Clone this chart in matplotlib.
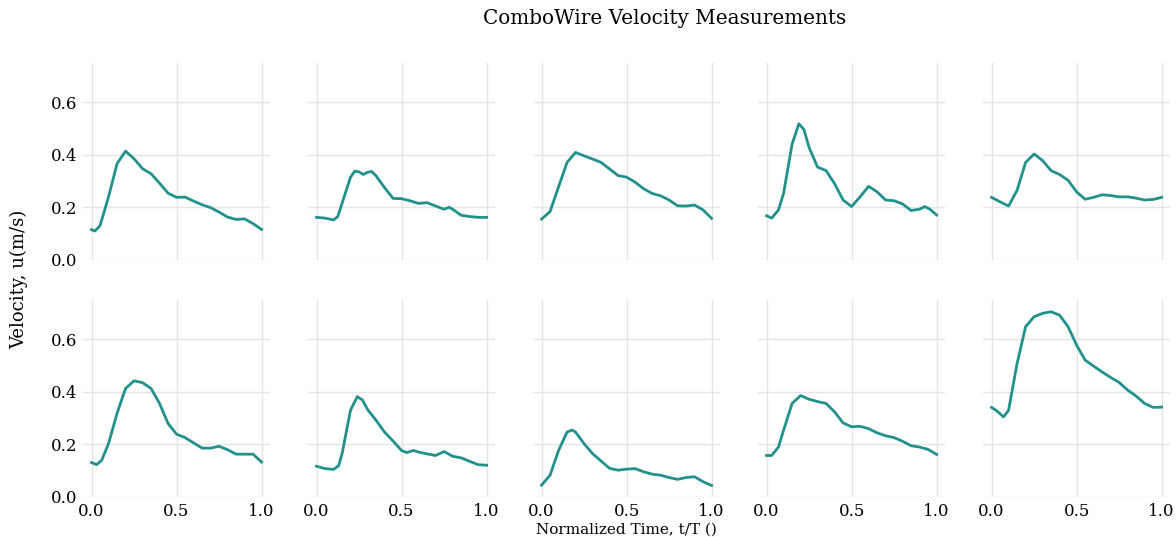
import matplotlib
matplotlib.use("Agg")
import matplotlib.pyplot as plt

# panel data (normalized time, velocity in m/s)
t1 = [0, 0.02, 0.05, 0.1, 0.15, 0.2, 0.25, 0.3, 0.35, 0.4, 0.45, 0.5, 0.55, 0.6, 0.65, 0.7, 0.75, 0.8, 0.85, 0.9, 0.95, 1.0]
u1 = [0.115, 0.11, 0.13, 0.24, 0.366, 0.414, 0.385, 0.347, 0.328, 0.292, 0.254, 0.238, 0.239, 0.224, 0.21, 0.199, 0.182, 0.163, 0.154, 0.156, 0.138, 0.116]

t2 = [0, 0.05, 0.1, 0.125, 0.15, 0.2, 0.225, 0.25, 0.275, 0.3, 0.325, 0.35, 0.4, 0.45, 0.5, 0.55, 0.6, 0.65, 0.7, 0.75, 0.78, 0.8, 0.85, 0.9, 0.95, 1.0]
u2 = [0.162, 0.159, 0.152, 0.165, 0.215, 0.315, 0.338, 0.335, 0.325, 0.334, 0.336, 0.32, 0.275, 0.234, 0.233, 0.225, 0.215, 0.218, 0.205, 0.193, 0.2, 0.193, 0.17, 0.165, 0.162, 0.162]

t3 = [0, 0.05, 0.1, 0.15, 0.2, 0.25, 0.3, 0.35, 0.4, 0.45, 0.5, 0.55, 0.6, 0.65, 0.7, 0.75, 0.8, 0.85, 0.9, 0.95, 1.0]
u3 = [0.155, 0.184, 0.278, 0.371, 0.409, 0.396, 0.384, 0.371, 0.346, 0.321, 0.315, 0.296, 0.271, 0.253, 0.244, 0.228, 0.206, 0.205, 0.209, 0.19, 0.158]

t4 = [0, 0.03, 0.07, 0.1, 0.15, 0.19, 0.22, 0.25, 0.3, 0.35, 0.4, 0.45, 0.5, 0.55, 0.6, 0.65, 0.7, 0.75, 0.8, 0.85, 0.9, 0.93, 0.96, 1.0]
u4 = [0.168, 0.159, 0.19, 0.253, 0.44, 0.518, 0.496, 0.428, 0.353, 0.34, 0.29, 0.228, 0.203, 0.24, 0.28, 0.259, 0.228, 0.225, 0.213, 0.188, 0.193, 0.203, 0.193, 0.171]

t5 = [0, 0.05, 0.1, 0.15, 0.2, 0.25, 0.3, 0.35, 0.4, 0.45, 0.5, 0.55, 0.6, 0.65, 0.7, 0.75, 0.8, 0.85, 0.9, 0.95, 1.0]
u5 = [0.238, 0.221, 0.205, 0.265, 0.371, 0.403, 0.378, 0.34, 0.325, 0.303, 0.259, 0.231, 0.238, 0.248, 0.245, 0.24, 0.24, 0.235, 0.228, 0.23, 0.238]

t6 = [0, 0.03, 0.06, 0.1, 0.15, 0.2, 0.25, 0.3, 0.35, 0.4, 0.45, 0.5, 0.55, 0.6, 0.65, 0.7, 0.75, 0.8, 0.85, 0.9, 0.95, 1.0]
u6 = [0.131, 0.123, 0.14, 0.203, 0.318, 0.413, 0.442, 0.435, 0.413, 0.356, 0.28, 0.239, 0.226, 0.206, 0.186, 0.186, 0.193, 0.18, 0.163, 0.163, 0.163, 0.133]

t7 = [0, 0.05, 0.1, 0.13, 0.15, 0.2, 0.24, 0.27, 0.3, 0.35, 0.4, 0.45, 0.5, 0.53, 0.57, 0.6, 0.65, 0.7, 0.75, 0.8, 0.85, 0.9, 0.95, 1.0]
u7 = [0.117, 0.108, 0.105, 0.119, 0.164, 0.331, 0.382, 0.369, 0.333, 0.292, 0.247, 0.213, 0.177, 0.169, 0.177, 0.171, 0.164, 0.158, 0.173, 0.155, 0.149, 0.136, 0.123, 0.121]

t8 = [0, 0.05, 0.1, 0.15, 0.18, 0.2, 0.25, 0.3, 0.35, 0.4, 0.45, 0.5, 0.55, 0.6, 0.65, 0.7, 0.75, 0.8, 0.85, 0.9, 0.95, 1.0]
u8 = [0.045, 0.083, 0.177, 0.247, 0.255, 0.247, 0.203, 0.165, 0.137, 0.109, 0.102, 0.106, 0.108, 0.096, 0.087, 0.083, 0.074, 0.067, 0.074, 0.077, 0.058, 0.044]

t9 = [0, 0.03, 0.07, 0.1, 0.15, 0.2, 0.25, 0.3, 0.35, 0.4, 0.45, 0.5, 0.55, 0.6, 0.65, 0.7, 0.75, 0.8, 0.85, 0.9, 0.95, 1.0]
u9 = [0.158, 0.158, 0.19, 0.254, 0.356, 0.386, 0.372, 0.363, 0.356, 0.324, 0.282, 0.267, 0.269, 0.26, 0.244, 0.233, 0.226, 0.212, 0.195, 0.19, 0.181, 0.162]

t10 = [0, 0.03, 0.07, 0.1, 0.15, 0.2, 0.25, 0.3, 0.35, 0.4, 0.45, 0.5, 0.55, 0.6, 0.65, 0.7, 0.75, 0.8, 0.85, 0.9, 0.95, 1.0]
u10 = [0.341, 0.328, 0.305, 0.33, 0.508, 0.648, 0.686, 0.699, 0.705, 0.692, 0.648, 0.578, 0.521, 0.498, 0.476, 0.455, 0.436, 0.407, 0.384, 0.356, 0.341, 0.342]

times = [t1, t2, t3, t4, t5, t6, t7, t8, t9, t10]
vels = [u1, u2, u3, u4, u5, u6, u7, u8, u9, u10]

plt.rcParams['font.family'] = ['DejaVu Serif']

fig, axes = plt.subplots(2, 5, figsize=(11.76, 5.37), dpi=100, sharex=True, sharey=True)
fig.subplots_adjust(left=0.0706, right=0.995, top=0.883, bottom=0.0745, wspace=0.203, hspace=0.203)

for i, ax in enumerate(axes.flat):
    ax.plot(times[i], vels[i], color='#21918c', linewidth=2, solid_joinstyle='round')
    ax.set_xlim(-0.05, 1.05)
    ax.set_ylim(0, 0.75)
    ax.set_xticks([0.0, 0.5, 1.0])
    ax.set_yticks([0.0, 0.2, 0.4, 0.6])
    ax.grid(True, color='#e5e5e5', linewidth=1)
    ax.set_axisbelow(True)
    for s in ax.spines.values():
        s.set_visible(False)
    ax.tick_params(length=0, labelsize=12, pad=4)

axes[1, 2].set_xlabel("Normalized Time, t/T ()", fontsize=11, labelpad=2)
fig.text(0.016, 0.48, "Velocity, u(m/s)", rotation=90, va='center', ha='center', fontsize=13)
fig.text(0.565, 0.966, "ComboWire Velocity Measurements", ha='center', va='center', fontsize=14.4)

plt.savefig("out.png", dpi=100)
